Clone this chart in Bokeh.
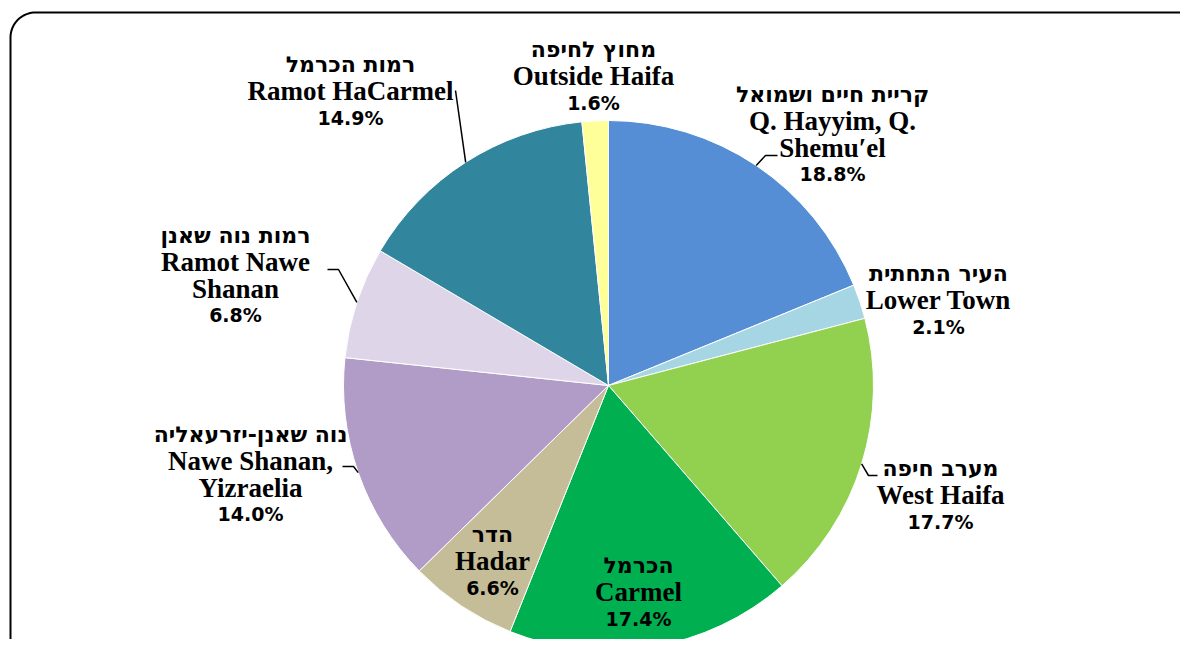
import numpy as np
from bokeh.plotting import figure
from bokeh.models import Range1d, ColumnDataSource
from bokeh.core.properties import value
from bokeh.embed import file_html
from bokeh.resources import INLINE

# ---------------- data ----------------
hebrew = ["קריית חיים ושמואל", "העיר התחתית", "מערב חיפה", "הכרמל", "הדר",
          "נוה שאנן-יזרעאליה", "רמות נוה שאנן", "רמות הכרמל", "מחוץ לחיפה"]
english = ["Q. Hayyim, Q.\nShemu\u2032el", "Lower Town", "West Haifa", "Carmel", "Hadar",
           "Nawe Shanan,\nYizraelia", "Ramot Nawe\nShanan", "Ramot HaCarmel", "Outside Haifa"]
shares = [18.8, 2.1, 17.7, 17.4, 6.6, 14.0, 6.8, 14.9, 1.6]
colors = ["#558ED5", "#A6D6E3", "#92D050", "#00B050", "#C4BD97",
          "#B09CC6", "#DED5E8", "#31859C", "#FFFF99"]

# ---------------- layout (screen px) ----------------
W, H = 1180, 639
CX, CY, R = 608, 385, 265
label_anchor = [(832, 94), (938, 273), (940, 468), (638, 565), (492, 534),
                (250, 434), (235, 235), (350, 64), (593, 49)]
leader_pts = {0: [(765, 155), (777, 155)], 2: [(868, 475), (877, 475)],
              5: [(353, 466), (342, 466)], 6: [(338, 269), (327, 269)],
              7: [(455, 90)]}
STEP = 26.5


def sy(y):
    return H - y


p = figure(width=W, height=H, output_backend="svg", toolbar_location=None,
           x_range=Range1d(0, W), y_range=Range1d(0, H),
           min_border=0, outline_line_color=None)
p.axis.visible = False
p.grid.visible = False
p.background_fill_color = "white"

# border (rounded rectangle, partly outside view)
L, T, Rt, B, rad = 10, 12, 1212, 663, 25
bx, by = [], []
def arc(cx, cy, a0, a1):
    t = np.linspace(a0, a1, 20)
    bx.extend(cx + rad * np.cos(t)); by.extend(cy - rad * np.sin(t))
arc(L + rad, T + rad, np.pi, np.pi / 2)
arc(Rt - rad, T + rad, np.pi / 2, 0)
arc(Rt - rad, B - rad, 0, -np.pi / 2)
arc(L + rad, B - rad, -np.pi / 2, -np.pi)
bx.append(bx[0]); by.append(by[0])
p.line(bx, [sy(v) for v in by], line_color="black", line_width=2)

# pie
vals = np.array(shares, dtype=float)
frac = vals / vals.sum()
cum = np.concatenate([[0], np.cumsum(frac)])
start = np.pi / 2 - 2 * np.pi * cum[:-1]
end = np.pi / 2 - 2 * np.pi * cum[1:]
src = ColumnDataSource(dict(start=start, end=end, color=colors))
p.wedge(x=CX, y=sy(CY), radius=R, start_angle="start", end_angle="end",
        direction="clock", fill_color="color", line_color="white",
        line_width=1, source=src)

# leader lines
mid = np.pi / 2 - 2 * np.pi * (cum[:-1] + cum[1:]) / 2
for i, pts in leader_pts.items():
    ex = CX + R * np.cos(mid[i])
    ey = sy(CY) + R * np.sin(mid[i])
    xs = [ex] + [q[0] for q in pts]
    ys = [ey] + [sy(q[1]) for q in pts]
    p.line(xs, ys, line_color="black", line_width=1.5)

# labels
heb = dict(x=[], y=[], t=[])
eng = dict(x=[], y=[], t=[])
pct = dict(x=[], y=[], t=[])
for i in range(len(shares)):
    ax, ay = label_anchor[i]
    heb["x"].append(ax); heb["y"].append(sy(ay)); heb["t"].append(hebrew[i])
    yy = ay
    for line in english[i].split("\n"):
        yy += STEP
        eng["x"].append(ax); eng["y"].append(sy(yy)); eng["t"].append(line)
    yy += STEP
    pct["x"].append(ax); pct["y"].append(sy(yy)); pct["t"].append(f"{shares[i]:.1f}%")

p.text(x="x", y="y", text="t", source=ColumnDataSource(heb),
       text_font=value("DejaVu Sans"), text_font_style="bold", text_font_size="22px",
       text_align="center", text_baseline="middle", text_color="black")
p.text(x="x", y="y", text="t", source=ColumnDataSource(eng),
       text_font=value("Liberation Serif"), text_font_style="bold", text_font_size="27px",
       text_align="center", text_baseline="middle", text_color="black")
p.text(x="x", y="y", text="t", source=ColumnDataSource(pct),
       text_font=value("DejaVu Sans"), text_font_style="bold", text_font_size="19px",
       text_align="center", text_baseline="middle", text_color="black")

open("out.html", "w").write(file_html(p, INLINE))
